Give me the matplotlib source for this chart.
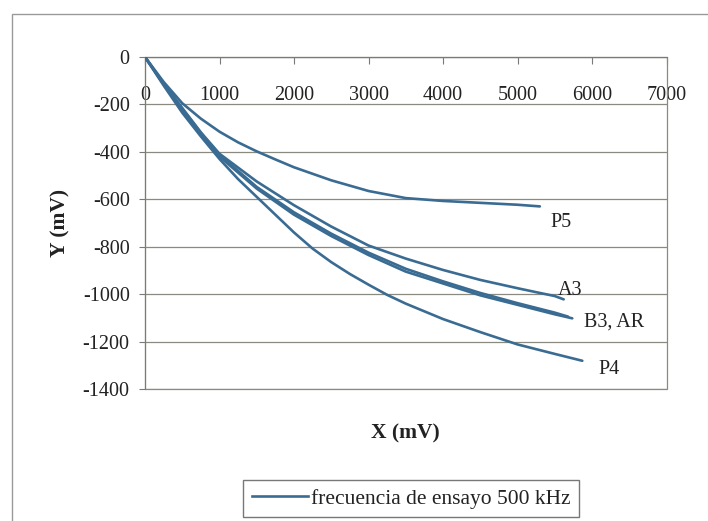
import matplotlib
matplotlib.use("Agg")
import matplotlib.pyplot as plt
from matplotlib.patches import Rectangle
from matplotlib.lines import Line2D

plt.rcParams['font.family'] = ['Liberation Serif', 'DejaVu Serif']

# Axis ticks
x_ticks = [0, 1000, 2000, 3000, 4000, 5000, 6000, 7000]
y_ticks = [0, -200, -400, -600, -800, -1000, -1200, -1400]

# Impedance-plane traces (X, Y in mV)
p5_x = [0, 250, 500, 750, 1000, 1250, 1500, 1750, 2000, 2500, 3000, 3500, 4000, 4500, 5000, 5300]
p5_y = [0, -105, -195, -260, -315, -360, -398, -432, -465, -520, -565, -595, -607, -615, -623, -630]

a3_x = [0, 250, 500, 750, 1000, 1500, 2000, 2500, 3000, 3500, 4000, 4500, 5000, 5300, 5500, 5620]
a3_y = [0, -112, -215, -318, -408, -525, -625, -715, -795, -850, -898, -940, -975, -995, -1008, -1022]

b3_x = [0, 250, 500, 750, 1000, 1500, 2000, 2500, 3000, 3500, 4000, 4500, 5000, 5500, 5735]
b3_y = [0, -115, -222, -325, -420, -555, -665, -755, -835, -905, -955, -1005, -1045, -1085, -1102]

ar_x = [0, 250, 500, 750, 1000, 1500, 2000, 2500, 3000, 3500, 4000, 4500, 5000, 5500, 5680]
ar_y = [0, -113, -218, -320, -413, -548, -655, -745, -825, -893, -946, -995, -1038, -1078, -1095]

p4_x = [0, 250, 500, 750, 1000, 1250, 1500, 1750, 2000, 2250, 2500, 2750, 3000, 3250, 3500, 4000, 4500, 5000, 5500, 5870]
p4_y = [0, -120, -235, -335, -430, -515, -590, -665, -740, -808, -865, -915, -960, -1003, -1040, -1105, -1160, -1212, -1252, -1281]

# Curve names and where each name is written (left edge, vertical centre)
curve_names = ["P5", "A3", "B3, AR", "P4"]
name_x = [5444, 5538, 5887, 6089]
name_y = [-696, -983, -1118, -1316]

legend_label = "frecuencia de ensayo 500 kHz"

line_color = "#3a6c93"
grid_color = "#8a8a80"
text_color = "#222222"

fig = plt.figure(figsize=(7.08, 5.21), dpi=100)
W, H = 708, 521

# chart-area frame
fig.patches.append(Rectangle((12 / W, -0.2), 2.0, 1 - 14 / H + 0.2,
                             transform=fig.transFigure, fill=False,
                             edgecolor="#9a9a9a", linewidth=1.0, zorder=0))

ax = fig.add_axes([145 / W, 1 - 389 / H, (666.5 - 145) / W, (389 - 57) / H])
ax.set_xlim(x_ticks[0], x_ticks[-1])
ax.set_ylim(y_ticks[-1], y_ticks[0])

for xs, ys in [(p5_x, p5_y), (a3_x, a3_y), (b3_x, b3_y), (ar_x, ar_y), (p4_x, p4_y)]:
    ax.plot(xs, ys, color=line_color, linewidth=1.9, solid_capstyle="round",
            solid_joinstyle="round", zorder=3)

# horizontal gridlines
ax.set_yticks(y_ticks)
ax.set_yticklabels([str(v) for v in y_ticks])
ax.yaxis.grid(True, color=grid_color, linewidth=0.9)
ax.set_axisbelow(True)

# x axis crosses at Y = 0
ax.set_xticks(x_ticks)
ax.set_xticklabels([str(v) for v in x_ticks])
ax.spines['bottom'].set_position(('data', 0))
ax.spines['top'].set_visible(False)
ax.spines['right'].set_visible(False)
ax.spines['bottom'].set_color("#7a7a7a")
ax.spines['left'].set_color("#7a7a7a")
ax.tick_params(axis='x', direction='out', length=5, pad=16, labelsize=14.5,
               colors=text_color, color="#7a7a7a")
ax.tick_params(axis='y', direction='out', length=4, pad=7, labelsize=14.5,
               colors=text_color, color="#7a7a7a")

# plot-area border
ax.add_patch(Rectangle((0, 0), 1, 1, transform=ax.transAxes, fill=False,
                       edgecolor=grid_color, linewidth=0.9, zorder=1, clip_on=False))

for name, nx, ny in zip(curve_names, name_x, name_y):
    ax.text(nx, ny, name, ha="left", va="center", fontsize=14.5, color=text_color, zorder=4)

ax.set_xlabel("X (mV)", fontsize=15.5, fontweight="bold", color=text_color)
ax.xaxis.set_label_coords(0.5, -0.105)
ax.set_ylabel("Y (mV)", fontsize=15.5, fontweight="bold", color=text_color)
ax.yaxis.set_label_coords(-0.1435, 0.5)

handle = Line2D([], [], color=line_color, linewidth=1.9)
leg = fig.legend([handle], [legend_label], loc="upper center",
                 bbox_to_anchor=(411 / W, 1 - 480 / H), fontsize=15.5,
                 frameon=True, fancybox=False, handlelength=2.6,
                 handletextpad=0.15, borderpad=0.4, borderaxespad=0)
leg.get_frame().set_edgecolor("#555555")
leg.get_frame().set_linewidth(1.0)
for t in leg.get_texts():
    t.set_color(text_color)

fig.savefig("out.png", dpi=100)
